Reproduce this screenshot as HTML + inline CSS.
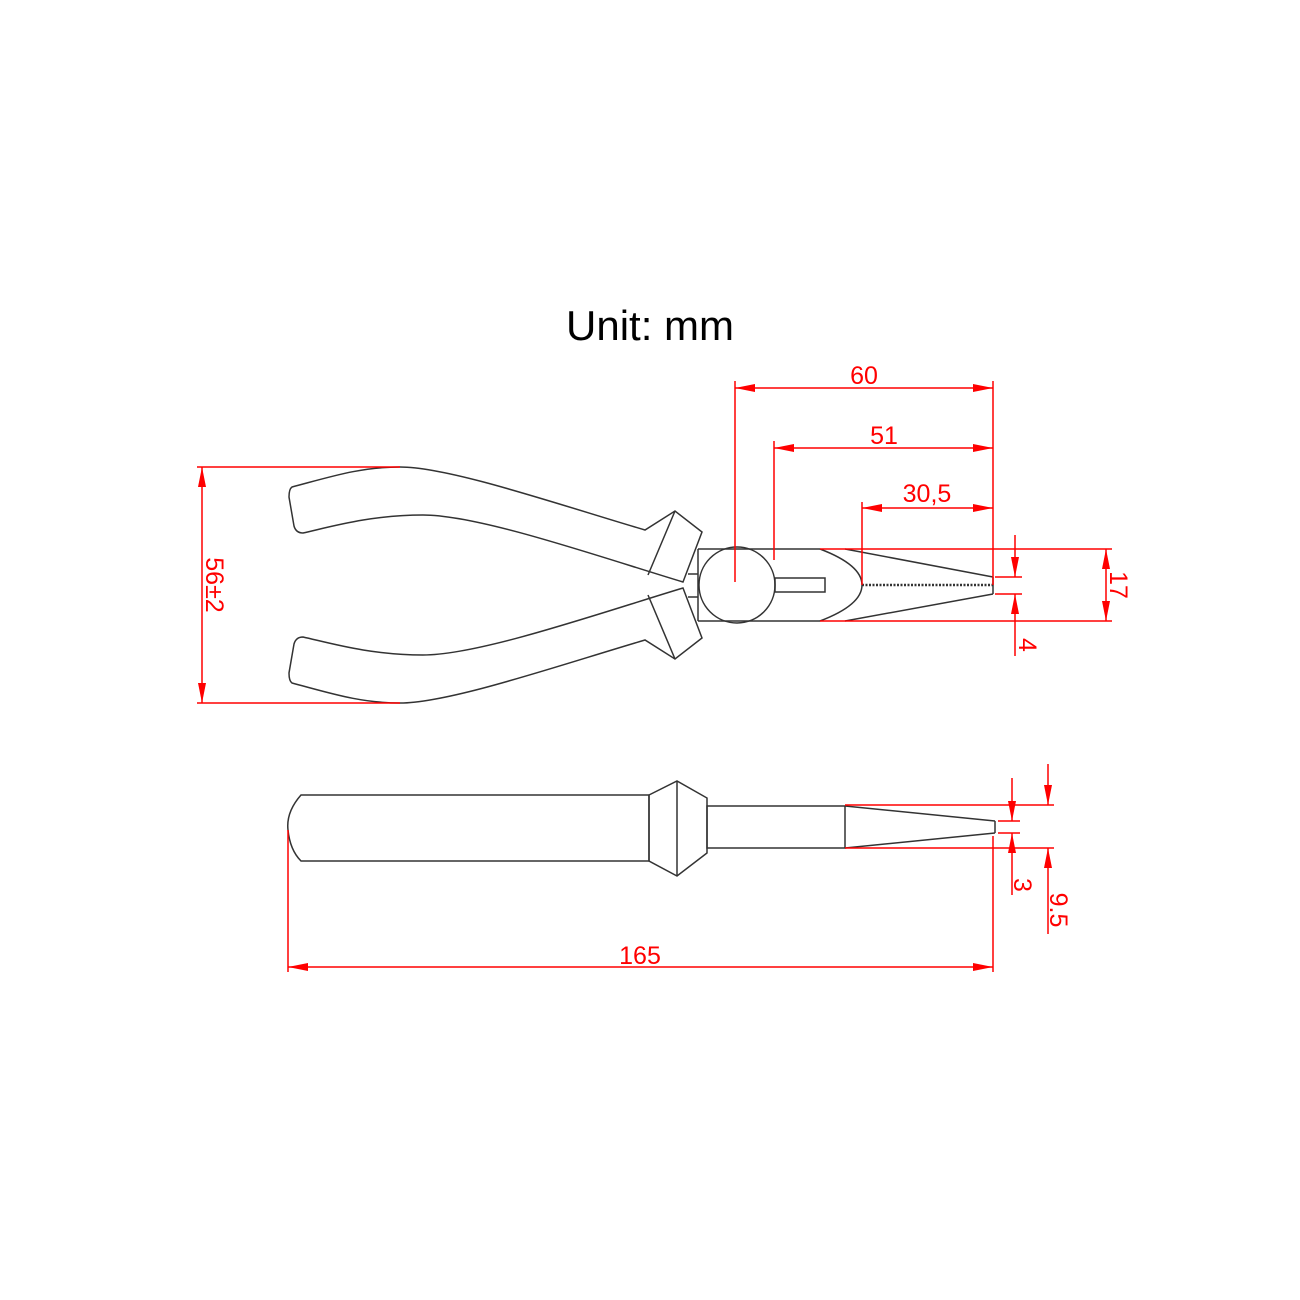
<!DOCTYPE html>
<html><head><meta charset="utf-8"><style>html,body{margin:0;padding:0;background:#fff}svg{display:block}</style></head>
<body>
<svg width="1300" height="1300" viewBox="0 0 1300 1300" xmlns="http://www.w3.org/2000/svg">
<defs>
<marker id="a" viewBox="0 0 20 8" refX="20" refY="4" markerWidth="20" markerHeight="8" markerUnits="userSpaceOnUse" orient="auto-start-reverse"><path d="M0,0 L20,4 L0,8 Z" fill="#f00"/></marker>
</defs>
<text x="650" y="340" font-family="Liberation Sans, sans-serif" font-size="42" text-anchor="middle" fill="#000">Unit: mm</text>

<g fill="none" stroke="#333" stroke-width="1.5">
<path d="M292,487 C330,477 360,467 400,467 C450,467 560,505 645,530 L675,511 L702,532 L683,582 C600,557 480,515 423,515 C370,515 330,527 303,533 Q296,533 294,526 L289,497 Q289,489 292,487 Z"/>
<line x1="675" y1="511" x2="648" y2="575"/>
<path d="M292,683 C330,693 360,703 400,703 C450,703 560,665 645,640 L675,659 L702,638 L683,588 C600,613 480,655 423,655 C370,655 330,643 303,637 Q296,637 294,644 L289,673 Q289,681 292,683 Z"/>
<line x1="675" y1="659" x2="648" y2="595"/>
<line x1="688" y1="574" x2="698" y2="574"/>
<line x1="688" y1="597" x2="698" y2="597"/>
<line x1="698" y1="549" x2="820" y2="549"/>
<line x1="698" y1="621" x2="820" y2="621"/>
<line x1="698" y1="549" x2="698" y2="621"/>
<circle cx="737" cy="585" r="38"/>
<rect x="775" y="578" width="50" height="14"/>
<path d="M820,549 Q862,565 862,585 Q862,605 820,621"/>
<line x1="845" y1="549" x2="993" y2="577"/>
<line x1="845" y1="621" x2="993" y2="594"/>
<line x1="862" y1="585" x2="993" y2="585" stroke-dasharray="2 1.5" stroke-width="2.5"/>
<line x1="993" y1="577" x2="993" y2="594"/>
<path d="M649,795 L301,795 Q286,812 288,830 Q290,850 301,861 L649,861"/>
<path d="M649,795 L677,781 L707,798 L707,853 L677,876 L649,861 Z"/>
<line x1="649" y1="795" x2="649" y2="861"/>
<line x1="677" y1="781" x2="677" y2="876"/>
<rect x="707" y="806" width="138" height="42"/>
<line x1="845" y1="806" x2="995" y2="821"/>
<line x1="845" y1="848" x2="995" y2="833"/>
<line x1="995" y1="821" x2="995" y2="833"/>
</g>

<g stroke="#f00" stroke-width="1.5" fill="none">
<line x1="735" y1="381" x2="735" y2="582"/>
<line x1="774" y1="441" x2="774" y2="560"/>
<line x1="862" y1="502" x2="862" y2="585"/>
<line x1="993" y1="381" x2="993" y2="585"/>
<line x1="735" y1="388" x2="993" y2="388" marker-start="url(#a)" marker-end="url(#a)"/>
<line x1="774" y1="448" x2="993" y2="448" marker-start="url(#a)" marker-end="url(#a)"/>
<line x1="862" y1="508" x2="993" y2="508" marker-start="url(#a)" marker-end="url(#a)"/>
<line x1="820" y1="549" x2="1112" y2="549"/>
<line x1="820" y1="621" x2="1112" y2="621"/>
<line x1="1106" y1="549" x2="1106" y2="621" marker-start="url(#a)" marker-end="url(#a)"/>
<line x1="995" y1="577" x2="1022" y2="577"/>
<line x1="995" y1="594" x2="1022" y2="594"/>
<line x1="1015" y1="535" x2="1015" y2="577" marker-end="url(#a)"/>
<line x1="1015" y1="656" x2="1015" y2="594" marker-end="url(#a)"/>
<line x1="197" y1="467" x2="400" y2="467"/>
<line x1="197" y1="703" x2="400" y2="703"/>
<line x1="202" y1="467" x2="202" y2="703" marker-start="url(#a)" marker-end="url(#a)"/>
<line x1="845" y1="805" x2="1054" y2="805"/>
<line x1="845" y1="848" x2="1054" y2="848"/>
<line x1="998" y1="821" x2="1020" y2="821"/>
<line x1="998" y1="833" x2="1020" y2="833"/>
<line x1="1012" y1="778" x2="1012" y2="821" marker-end="url(#a)"/>
<line x1="1012" y1="895" x2="1012" y2="833" marker-end="url(#a)"/>
<line x1="1048" y1="764" x2="1048" y2="805" marker-end="url(#a)"/>
<line x1="1048" y1="934" x2="1048" y2="848" marker-end="url(#a)"/>
<line x1="288" y1="830" x2="288" y2="972"/>
<line x1="993" y1="836" x2="993" y2="972"/>
<line x1="288" y1="967" x2="993" y2="967" marker-start="url(#a)" marker-end="url(#a)"/>
</g>

<g fill="#f00" font-family="Liberation Sans, sans-serif" font-size="25">
<text x="864" y="384" text-anchor="middle">60</text>
<text x="884" y="444" text-anchor="middle">51</text>
<text x="927" y="502" text-anchor="middle">30,5</text>
<text x="640" y="964" text-anchor="middle">165</text>
<text transform="translate(1110,585) rotate(90)" text-anchor="middle">17</text>
<text transform="translate(1019,645) rotate(90)" text-anchor="middle">4</text>
<text transform="translate(206,585) rotate(90)" text-anchor="middle">56±2</text>
<text transform="translate(1014,885) rotate(90)" text-anchor="middle">3</text>
<text transform="translate(1050,910) rotate(90)" text-anchor="middle">9.5</text>
</g>
</svg>
</body></html>
